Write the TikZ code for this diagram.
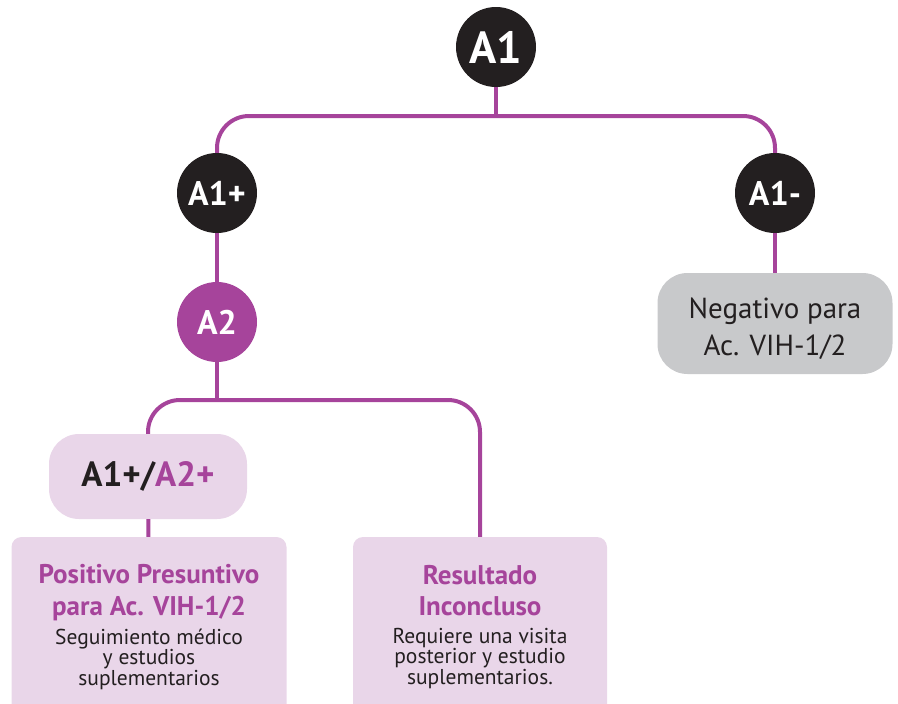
\documentclass[tikz,border=0pt]{standalone}
\usepackage{fontspec}
\setmainfont{PT Sans}
\usetikzlibrary{positioning}

\definecolor{vihpurple}{HTML}{A6449B}
\definecolor{vihdark}{HTML}{231F20}
\definecolor{vihlight}{HTML}{E9D6E9}
\definecolor{vihgray}{HTML}{C8C9CB}

\newcommand{\restitle}[1]{{\bfseries\color{vihpurple}\fontsize{27}{32}\selectfont #1}}

\begin{document}
\begin{tikzpicture}[x=1pt,y=-1pt,
  dot/.style={circle,fill=vihdark,minimum size=80pt,inner sep=0pt,text=white,
    font=\bfseries\fontsize{34}{34}\selectfont},
  conn/.style={draw=vihpurple,line width=4pt,rounded corners=32pt},
  graybox/.style={fill=vihgray,rounded corners=30pt,minimum width=235pt,minimum height=101pt,
    align=center,text=vihdark,font=\fontsize{29}{37}\selectfont},
  combobox/.style={fill=vihlight,rounded corners=30pt,minimum width=198pt,minimum height=85pt,
    text=vihdark,font=\bfseries\fontsize{35}{35}\selectfont},
  resbox/.style={fill=vihlight,rounded corners=10pt,minimum height=180pt,align=center,
    text=vihdark,font=\fontsize{21.5}{20.5}\selectfont}]

\useasboundingbox (0,0) rectangle (898,704);
\clip (0,0) rectangle (898,704);

% first assay
\node[dot,font=\bfseries\fontsize{45}{45}\selectfont] (a1) at (496,47) {A1};
\node[dot] (a1p) at (217,193) {A1+};
\node[dot] (a1m) at (775,193) {A1-};
\coordinate (top) at (496,116);

% second assay
\node[dot,fill=vihpurple] (a2) at (217,322) {A2};
\node[graybox] (neg) at (775,323.5) {\rule{0pt}{32pt}Negativo para\\Ac. VIH-1/2};
\coordinate (split) at (217,400);

% results
\node[combobox] (combo) at (148,476.5) {A1+/\textcolor{vihpurple}{A2+}};
\node[resbox,minimum width=275pt] (pos) at (149,627)
  {\restitle{Positivo Presuntivo}\\[11pt]\restitle{para Ac. VIH-1/2}\\[7pt]
   Seguimiento médico\\y estudios\\suplementarios};
\node[resbox,minimum width=254pt] (inc) at (480,627)
  {\restitle{Resultado}\\[11pt]\restitle{Inconcluso}\\[7pt]
   Requiere una visita\\posterior y estudio\\suplementarios.};

\draw[conn] (a1) -- (top);
\draw[conn] (a1p) |- (top) -| (a1m);
\draw[conn] (a1p) -- (a2);
\draw[conn] (a1m) -- (neg);
\draw[conn] (a2) -- (split);
\draw[conn] (combo) |- (split) -| (inc);
\draw[conn] (combo) -- (pos);
\end{tikzpicture}
\end{document}
